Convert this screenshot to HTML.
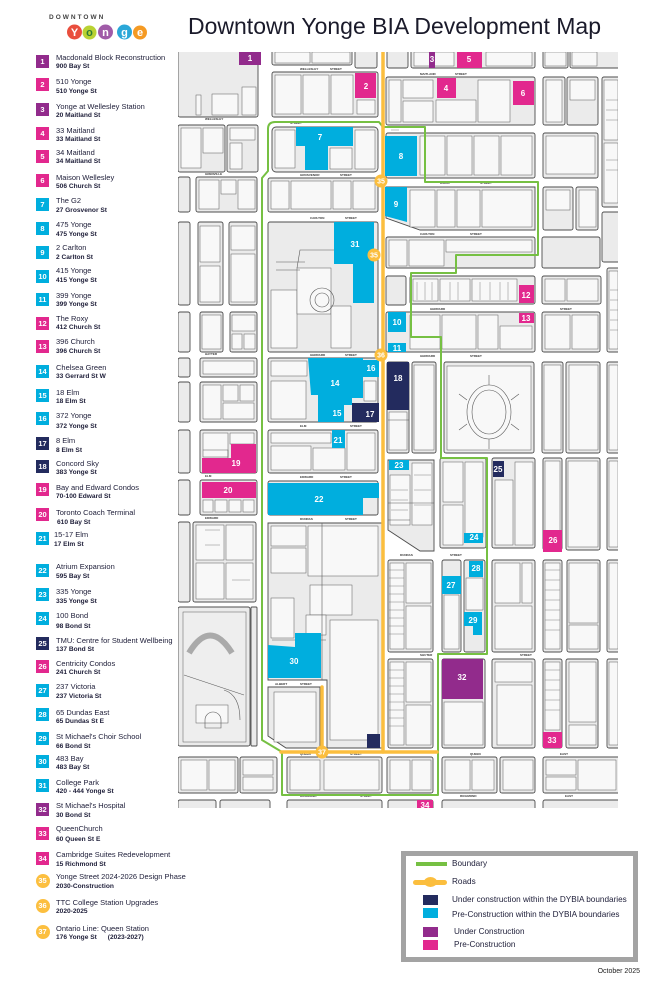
<!DOCTYPE html>
<html><head><meta charset="utf-8">
<style>
*{margin:0;padding:0;box-sizing:border-box}
body{width:652px;height:996px;position:relative;background:#fff;overflow:hidden;font-family:"Liberation Sans",Arial,sans-serif;color:#1d1d38}
.sq{position:absolute;left:36px;width:13px;height:13px;color:#fff;font-weight:bold;font-size:7.5px;line-height:13px;text-align:center}
.ci{position:absolute;left:35.5px;width:14px;height:14px;border-radius:50%;background:#fcbf3f;color:#fff;font-weight:bold;font-size:7.5px;line-height:14px;text-align:center}
.t{position:absolute;left:56px;font-size:7.5px;line-height:8px;white-space:nowrap}
.s{position:absolute;left:56px;font-size:6.6px;line-height:7px;font-weight:bold;white-space:nowrap}
.P{background:#922b8c}.M{background:#e2288e}.B{background:#00aede}.N{background:#232b5e}
.lg{position:absolute;font-size:8.2px;line-height:8px;white-space:nowrap;left:452px}
</style></head><body>

<!-- Logo -->
<div style="position:absolute;left:49px;top:14px;font-size:6.5px;line-height:8px;font-weight:bold;letter-spacing:2px;color:#444">DOWNTOWN</div>
<svg style="position:absolute;left:60px;top:22px" width="95" height="22">
<circle cx="14.5" cy="10" r="7.5" fill="#e94e3d"/>
<circle cx="29.5" cy="10.5" r="7" fill="#b9d233"/>
<circle cx="45.5" cy="10" r="7.5" fill="#a05ba8"/>
<circle cx="64.5" cy="10" r="7.5" fill="#2aa7d8"/>
<circle cx="80" cy="10.5" r="7" fill="#f59a23"/>
<g font-family="Liberation Sans, sans-serif" font-weight="bold" font-size="11" fill="#fff" text-anchor="middle">
<text x="14.5" y="14">Y</text><text x="29.5" y="14" fill="#2e7d32">o</text><text x="45.5" y="14">n</text><text x="64.5" y="14">g</text><text x="80" y="14">e</text></g>
</svg>

<!-- Title -->
<div style="position:absolute;left:188px;top:15px;font-size:23px;line-height:23px;color:#1a1a2a;white-space:nowrap">Downtown Yonge BIA Development Map</div>

<!-- Legend list -->
<div class="sq P" style="top:55px">1</div><div class="t" style="top:54.3px">Macdonald Block Reconstruction</div><div class="s" style="top:63.2px">900 Bay St</div>
<div class="sq M" style="top:77.7px">2</div><div class="t" style="top:78px">510 Yonge</div><div class="s" style="top:87.8px">510 Yonge St</div>
<div class="sq P" style="top:103px">3</div><div class="t" style="top:103.3px">Yonge at Wellesley Station</div><div class="s" style="top:112.2px">20 Maitland St</div>
<div class="sq M" style="top:126.7px">4</div><div class="t" style="top:126.7px">33 Maitland</div><div class="s" style="top:135.8px">33 Maitland St</div>
<div class="sq M" style="top:150px">5</div><div class="t" style="top:149.3px">34 Maitland</div><div class="s" style="top:158.2px">34 Maitland St</div>
<div class="sq M" style="top:174px">6</div><div class="t" style="top:174.3px">Maison Wellesley</div><div class="s" style="top:182.5px">506 Church St</div>
<div class="sq B" style="top:197.7px">7</div><div class="t" style="top:197px">The G2</div><div class="s" style="top:207.2px">27 Grosvenor St</div>
<div class="sq B" style="top:221.7px">8</div><div class="t" style="top:221.3px">475 Yonge</div><div class="s" style="top:230.8px">475 Yonge St</div>
<div class="sq B" style="top:246px">9</div><div class="t" style="top:244px">2 Carlton</div><div class="s" style="top:253.8px">2 Carlton St</div>
<div class="sq B" style="top:270px">10</div><div class="t" style="top:267px">415 Yonge</div><div class="s" style="top:277.2px">415 Yonge St</div>
<div class="sq B" style="top:293.3px">11</div><div class="t" style="top:292px">399 Yonge</div><div class="s" style="top:300.8px">399 Yonge St</div>
<div class="sq M" style="top:317.3px">12</div><div class="t" style="top:315.3px">The Roxy</div><div class="s" style="top:324.2px">412 Church St</div>
<div class="sq M" style="top:340px">13</div><div class="t" style="top:338px">396 Church</div><div class="s" style="top:347.5px">396 Church St</div>
<div class="sq B" style="top:365px">14</div><div class="t" style="top:364.3px">Chelsea Green</div><div class="s" style="top:373.2px">33 Gerrard St W</div>
<div class="sq B" style="top:388.7px">15</div><div class="t" style="top:389.3px">18 Elm</div><div class="s" style="top:398.2px">18 Elm St</div>
<div class="sq B" style="top:412.3px">16</div><div class="t" style="top:412.3px">372 Yonge</div><div class="s" style="top:422.8px">372 Yonge St</div>
<div class="sq N" style="top:436.7px">17</div><div class="t" style="top:437px">8 Elm</div><div class="s" style="top:447.2px">8 Elm St</div>
<div class="sq N" style="top:460px">18</div><div class="t" style="top:460px">Concord Sky</div><div class="s" style="top:468.8px">383 Yonge St</div>
<div class="sq M" style="top:483.3px">19</div><div class="t" style="top:484.3px">Bay and Edward Condos</div><div class="s" style="top:493.2px">70-100 Edward St</div>
<div class="sq M" style="top:507.7px">20</div><div class="t" style="top:509.3px">Toronto Coach Terminal</div><div class="s" style="top:518.8px;left:57px">610 Bay St</div>
<div class="sq B" style="top:531.7px">21</div><div class="t" style="top:531px;left:54px">15-17 Elm</div><div class="s" style="top:540.8px;left:54px">17 Elm St</div>
<div class="sq B" style="top:564.3px">22</div><div class="t" style="top:563.3px">Atrium Expansion</div><div class="s" style="top:573.2px">595 Bay St</div>
<div class="sq B" style="top:588.3px">23</div><div class="t" style="top:588.3px">335 Yonge</div><div class="s" style="top:597.8px">335 Yonge St</div>
<div class="sq B" style="top:612.3px">24</div><div class="t" style="top:612.3px">100 Bond</div><div class="s" style="top:622.8px">98 Bond St</div>
<div class="sq N" style="top:636.7px">25</div><div class="t" style="top:637.3px">TMU: Centre for Student Wellbeing</div><div class="s" style="top:646.2px">137 Bond St</div>
<div class="sq M" style="top:660px">26</div><div class="t" style="top:660.3px">Centricity Condos</div><div class="s" style="top:668.8px">241 Church St</div>
<div class="sq B" style="top:684px">27</div><div class="t" style="top:683.3px">237 Victoria</div><div class="s" style="top:692.8px">237 Victoria St</div>
<div class="sq B" style="top:707.7px">28</div><div class="t" style="top:709px">65 Dundas East</div><div class="s" style="top:717.5px">65 Dundas St E</div>
<div class="sq B" style="top:731.7px">29</div><div class="t" style="top:733px">St Michael's Choir School</div><div class="s" style="top:742.8px">66 Bond St</div>
<div class="sq B" style="top:755px">30</div><div class="t" style="top:755px">483 Bay</div><div class="s" style="top:763.8px">483 Bay St</div>
<div class="sq B" style="top:779px">31</div><div class="t" style="top:779.3px">College Park</div><div class="s" style="top:788.2px">420 - 444 Yonge St</div>
<div class="sq P" style="top:802.7px">32</div><div class="t" style="top:802px">St Michael's Hospital</div><div class="s" style="top:811.8px">30 Bond St</div>
<div class="sq M" style="top:826.7px">33</div><div class="t" style="top:825px">QueenChurch</div><div class="s" style="top:835.5px">60 Queen St E</div>
<div class="sq M" style="top:852.3px">34</div><div class="t" style="top:851px">Cambridge Suites Redevelopment</div><div class="s" style="top:860.8px">15 Richmond St</div>
<div class="ci" style="top:873.7px">35</div><div class="t" style="top:872.7px">Yonge Street 2024-2026 Design Phase</div><div class="s" style="top:882.5px">2030-Construction</div>
<div class="ci" style="top:899px">36</div><div class="t" style="top:898.7px">TTC College Station Upgrades</div><div class="s" style="top:907.8px">2020-2025</div>
<div class="ci" style="top:924.7px">37</div><div class="t" style="top:925px">Ontario Line: Queen Station</div><div class="s" style="top:934.2px;white-space:pre">176 Yonge St      (2023-2027)</div>

<!-- Map -->
<svg width="652" height="996" style="position:absolute;left:0;top:0">
<defs><clipPath id="mc"><rect x="178" y="52" width="440" height="756"/></clipPath></defs>
<g clip-path="url(#mc)">
<g fill="#ebebeb" stroke="#4d4d4d" stroke-width="0.9">
<rect x="178" y="48" width="80" height="69" rx="2"/>
<rect x="178" y="125" width="47" height="47" rx="2"/>
<rect x="227" y="125" width="31" height="47" rx="2"/>
<rect x="178" y="177" width="12" height="35" rx="2"/>
<rect x="196" y="177" width="61" height="35" rx="2"/>
<rect x="178" y="222" width="12" height="83" rx="2"/>
<rect x="198" y="222" width="25" height="83" rx="2"/>
<rect x="229" y="222" width="28" height="83" rx="2"/>
<rect x="178" y="312" width="12" height="40" rx="2"/>
<rect x="200" y="312" width="23" height="40" rx="2"/>
<rect x="230" y="312" width="27" height="40" rx="2"/>
<rect x="178" y="358" width="12" height="19" rx="2"/>
<rect x="200" y="358" width="57" height="19" rx="2"/>
<rect x="178" y="382" width="12" height="40" rx="2"/>
<rect x="200" y="382" width="57" height="40" rx="2"/>
<rect x="178" y="430" width="12" height="43" rx="2"/>
<rect x="200" y="430" width="57" height="43" rx="2"/>
<rect x="178" y="480" width="12" height="35" rx="2"/>
<rect x="200" y="480" width="57" height="35" rx="2"/>
<rect x="178" y="522" width="12" height="80" rx="2"/>
<rect x="193" y="522" width="63" height="80" rx="2"/>
<rect x="178" y="607" width="72" height="139" rx="2"/>
<rect x="251" y="607" width="6" height="139" rx="1"/>
<rect x="178" y="757" width="60" height="36" rx="2"/>
<rect x="240" y="757" width="37" height="36" rx="2"/>
<rect x="178" y="800" width="38" height="14" rx="2"/>
<rect x="220" y="800" width="50" height="14" rx="2"/>

<rect x="272" y="48" width="80" height="17" rx="2"/>
<rect x="355" y="48" width="22" height="20" rx="2"/>
<rect x="272" y="72" width="106" height="45" rx="2"/>
<rect x="272" y="127" width="106" height="45" rx="4"/>
<rect x="268" y="178" width="110" height="34" rx="2"/>
<rect x="268" y="222" width="110" height="130" rx="2"/>
<rect x="268" y="358" width="110" height="64" rx="2"/>
<rect x="268" y="430" width="110" height="43" rx="2"/>
<rect x="268" y="481" width="110" height="34" rx="2"/>
<path d="M268,523 H382 V748 H327 V680 H268 Z"/>
<path d="M268,687 H320 V748 H286 L268,736 Z"/>
<rect x="287" y="757" width="95" height="36" rx="2"/>
<rect x="287" y="800" width="95" height="14" rx="2"/>

<rect x="387" y="48" width="21" height="20" rx="2"/>
<rect x="411" y="48" width="124" height="20" rx="2"/>
<rect x="543" y="48" width="25" height="20" rx="2"/>
<rect x="570" y="48" width="50" height="20" rx="2"/>
<rect x="386" y="77" width="149" height="48" rx="2"/>
<rect x="543" y="77" width="22" height="48" rx="2"/>
<rect x="567" y="77" width="31" height="48" rx="2"/>
<rect x="602" y="77" width="18" height="130" rx="2"/>
<rect x="386" y="133" width="149" height="45" rx="2"/>
<rect x="543" y="133" width="55" height="45" rx="2"/>
<path d="M386,187 H535 V230 H420 L386,218 Z"/>
<rect x="543" y="187" width="30" height="43" rx="2"/>
<rect x="576" y="187" width="22" height="43" rx="2"/>
<rect x="602" y="212" width="18" height="50" rx="2"/>
<rect x="386" y="237" width="149" height="31" rx="2"/>
<rect x="542" y="237" width="58" height="31" rx="2"/>
<rect x="386" y="276" width="20" height="29" rx="2"/>
<rect x="410" y="276" width="125" height="28" rx="2"/>
<rect x="542" y="276" width="59" height="28" rx="2"/>
<rect x="607" y="268" width="13" height="84" rx="2"/>
<rect x="386" y="312" width="149" height="40" rx="2"/>
<rect x="542" y="312" width="58" height="40" rx="2"/>
<rect x="387" y="362" width="22" height="91" rx="2"/>
<rect x="412" y="362" width="24" height="91" rx="2"/>
<rect x="444" y="362" width="90" height="91" rx="2"/>
<rect x="542" y="362" width="21" height="91" rx="2"/>
<rect x="566" y="362" width="34" height="91" rx="2"/>
<rect x="607" y="362" width="13" height="91" rx="2"/>
<path d="M388,460 H434 V551 H420 L388,530 Z"/>
<rect x="440" y="458" width="46" height="90" rx="2"/>
<rect x="492" y="458" width="43" height="90" rx="2"/>
<rect x="543" y="458" width="19" height="92" rx="2"/>
<rect x="566" y="458" width="34" height="92" rx="2"/>
<rect x="607" y="458" width="13" height="92" rx="2"/>
<rect x="388" y="560" width="45" height="92" rx="2"/>
<rect x="442" y="560" width="19" height="92" rx="2"/>
<rect x="464" y="560" width="21" height="92" rx="2"/>
<rect x="492" y="560" width="43" height="92" rx="2"/>
<rect x="543" y="560" width="19" height="92" rx="2"/>
<rect x="567" y="560" width="33" height="92" rx="2"/>
<rect x="607" y="560" width="13" height="92" rx="2"/>
<rect x="388" y="659" width="45" height="89" rx="2"/>
<rect x="442" y="659" width="43" height="89" rx="2"/>
<rect x="492" y="659" width="43" height="89" rx="2"/>
<rect x="543" y="659" width="19" height="89" rx="2"/>
<rect x="566" y="659" width="32" height="89" rx="2"/>
<rect x="607" y="659" width="13" height="89" rx="2"/>
<rect x="387" y="757" width="46" height="36" rx="2"/>
<rect x="442" y="757" width="55" height="36" rx="2"/>
<rect x="500" y="757" width="35" height="36" rx="2"/>
<rect x="543" y="757" width="77" height="36" rx="2"/>
<rect x="388" y="800" width="45" height="14" rx="2"/>
<rect x="442" y="800" width="93" height="14" rx="2"/>
<rect x="543" y="800" width="77" height="14" rx="2"/>
</g>

<!-- inner building detail -->
<g fill="#f8f8f8" stroke="#5a5a5a" stroke-width="0.5">
<rect x="196" y="95" width="5" height="20"/><rect x="212" y="94" width="26" height="21"/><rect x="242" y="87" width="14" height="28"/>
<rect x="181" y="128" width="20" height="40"/><rect x="203" y="128" width="20" height="25"/><rect x="230" y="128" width="25" height="12"/><rect x="230" y="143" width="12" height="26"/>
<rect x="199" y="180" width="20" height="29"/><rect x="221" y="180" width="15" height="14"/><rect x="238" y="180" width="17" height="29"/>
<rect x="200" y="226" width="20" height="36"/><rect x="200" y="266" width="20" height="36"/><rect x="231" y="226" width="24" height="24"/><rect x="231" y="254" width="24" height="48"/>
<rect x="202" y="315" width="19" height="34"/><rect x="232" y="315" width="23" height="16"/><rect x="232" y="334" width="10" height="15"/><rect x="244" y="334" width="11" height="15"/>
<rect x="203" y="361" width="51" height="13"/><rect x="203" y="385" width="18" height="34"/><rect x="223" y="385" width="15" height="16"/><rect x="240" y="385" width="14" height="16"/><rect x="223" y="403" width="31" height="16"/>
<rect x="203" y="433" width="25" height="24"/><rect x="230" y="433" width="24" height="11"/>
<rect x="203" y="500" width="10" height="12"/><rect x="215" y="500" width="12" height="12"/><rect x="229" y="500" width="12" height="12"/><rect x="243" y="500" width="11" height="12"/>
<rect x="196" y="525" width="28" height="35"/><rect x="226" y="525" width="27" height="35"/><rect x="196" y="563" width="28" height="36"/><rect x="226" y="563" width="27" height="36"/>
<rect x="183" y="612" width="63" height="130" fill="#eeeeee"/>
<rect x="196" y="705" width="32" height="18"/>
<rect x="181" y="760" width="26" height="30"/><rect x="209" y="760" width="26" height="30"/><rect x="243" y="760" width="30" height="15"/><rect x="243" y="777" width="30" height="13"/>
<rect x="275" y="75" width="26" height="39"/><rect x="303" y="75" width="26" height="39"/><rect x="331" y="75" width="22" height="39"/><rect x="357" y="100" width="18" height="14"/>
<rect x="275" y="130" width="20" height="38"/><rect x="330" y="148" width="22" height="21"/><rect x="355" y="130" width="20" height="39"/>
<rect x="271" y="181" width="18" height="28"/><rect x="291" y="181" width="40" height="28"/><rect x="333" y="181" width="18" height="28"/><rect x="353" y="181" width="22" height="28"/>
<rect x="271" y="290" width="26" height="58"/><rect x="297" y="268" width="34" height="46"/><rect x="331" y="306" width="20" height="42"/>
<rect x="271" y="361" width="36" height="15"/><rect x="271" y="381" width="35" height="38"/><rect x="364" y="381" width="12" height="20"/>
<rect x="271" y="433" width="60" height="10"/><rect x="271" y="446" width="40" height="24"/><rect x="313" y="448" width="32" height="22"/><rect x="347" y="433" width="28" height="37"/>
<rect x="271" y="526" width="35" height="20"/><rect x="308" y="526" width="70" height="50"/><rect x="271" y="548" width="35" height="25"/><rect x="310" y="585" width="42" height="30"/><rect x="271" y="598" width="23" height="40"/><rect x="330" y="620" width="48" height="120"/><rect x="306" y="615" width="20" height="20"/>
<rect x="274" y="692" width="42" height="50"/>
<rect x="290" y="760" width="30" height="30"/><rect x="324" y="760" width="55" height="30"/>
<rect x="389" y="80" width="12" height="42"/><rect x="403" y="80" width="30" height="18"/><rect x="403" y="101" width="30" height="21"/><rect x="436" y="100" width="40" height="22"/><rect x="478" y="80" width="32" height="42"/>
<rect x="420" y="136" width="25" height="39"/><rect x="447" y="136" width="25" height="39"/><rect x="474" y="136" width="25" height="39"/><rect x="501" y="136" width="31" height="39"/>
<rect x="546" y="136" width="49" height="38"/><rect x="546" y="80" width="16" height="42"/><rect x="570" y="80" width="25" height="20"/>
<rect x="410" y="190" width="25" height="37"/><rect x="437" y="190" width="18" height="37"/><rect x="457" y="190" width="23" height="37"/><rect x="482" y="190" width="50" height="37"/>
<rect x="546" y="190" width="24" height="20"/><rect x="579" y="190" width="17" height="37"/>
<rect x="389" y="240" width="18" height="26"/><rect x="409" y="240" width="35" height="26"/><rect x="446" y="240" width="86" height="12"/>
<rect x="413" y="279" width="25" height="22"/><rect x="440" y="279" width="30" height="22"/><rect x="472" y="279" width="45" height="22"/><rect x="545" y="279" width="20" height="22"/><rect x="567" y="279" width="31" height="22"/>
<rect x="410" y="315" width="30" height="34"/><rect x="442" y="315" width="34" height="34"/><rect x="478" y="315" width="20" height="34"/><rect x="500" y="326" width="32" height="23"/><rect x="545" y="315" width="25" height="34"/><rect x="572" y="315" width="26" height="34"/>
<rect x="389" y="412" width="18" height="38"/><rect x="414" y="365" width="20" height="85"/>
<rect x="447" y="366" width="84" height="84"/>
<rect x="544" y="365" width="17" height="85"/><rect x="569" y="365" width="29" height="85"/>
<rect x="390" y="475" width="20" height="50"/><rect x="412" y="463" width="20" height="62"/><rect x="443" y="462" width="20" height="40"/><rect x="465" y="462" width="18" height="75"/><rect x="443" y="505" width="20" height="40"/>
<rect x="495" y="480" width="18" height="65"/><rect x="515" y="462" width="18" height="83"/><rect x="545" y="461" width="15" height="86"/><rect x="568" y="461" width="30" height="86"/>
<rect x="390" y="563" width="14" height="86"/><rect x="406" y="563" width="25" height="40"/><rect x="406" y="606" width="25" height="43"/>
<rect x="444" y="595" width="15" height="54"/><rect x="466" y="578" width="17" height="32"/>
<rect x="495" y="563" width="25" height="40"/><rect x="495" y="606" width="37" height="43"/><rect x="522" y="563" width="10" height="40"/>
<rect x="545" y="563" width="15" height="86"/><rect x="569" y="563" width="29" height="60"/><rect x="569" y="625" width="29" height="24"/>
<rect x="390" y="662" width="14" height="83"/><rect x="406" y="662" width="25" height="40"/><rect x="406" y="705" width="25" height="40"/>
<rect x="444" y="702" width="39" height="43"/>
<rect x="495" y="662" width="37" height="20"/><rect x="497" y="685" width="35" height="60"/>
<rect x="545" y="662" width="15" height="68"/><rect x="569" y="662" width="27" height="60"/><rect x="569" y="725" width="27" height="20"/>
<rect x="390" y="760" width="20" height="30"/><rect x="412" y="760" width="19" height="30"/><rect x="445" y="760" width="25" height="30"/><rect x="472" y="760" width="22" height="30"/><rect x="503" y="760" width="30" height="30"/><rect x="546" y="760" width="30" height="15"/><rect x="546" y="777" width="30" height="13"/><rect x="578" y="760" width="38" height="30"/>
<rect x="604" y="80" width="14" height="60"/><rect x="604" y="143" width="14" height="60"/><rect x="609" y="271" width="9" height="78"/><rect x="609" y="365" width="9" height="85"/><rect x="609" y="461" width="9" height="86"/><rect x="609" y="563" width="9" height="86"/><rect x="609" y="662" width="9" height="83"/>
<rect x="275" y="52" width="35" height="11"/><rect x="312" y="52" width="38" height="11"/><rect x="414" y="52" width="40" height="14"/><rect x="486" y="52" width="46" height="14"/><rect x="545" y="52" width="21" height="14"/><rect x="572" y="52" width="25" height="14"/>
</g>

<!-- lot lines -->
<g fill="none" stroke="#777" stroke-width="0.45">
<path d="M389,570 h15 M389,578 h15 M389,586 h15 M389,594 h15 M389,602 h15 M389,610 h15 M389,618 h15 M389,626 h15 M389,634 h15"/>
<path d="M389,670 h15 M389,678 h15 M389,686 h15 M389,694 h15 M389,702 h15 M389,710 h15 M389,718 h15 M389,726 h15"/>
<path d="M545,570 h15 M545,580 h15 M545,590 h15 M545,600 h15 M545,610 h15 M545,620 h15 M545,630 h15"/>
<path d="M545,670 h15 M545,680 h15 M545,690 h15 M545,700 h15 M545,710 h15"/>
<path d="M417,282 v18 M425,282 v18 M432,282 v18 M450,282 v18 M458,282 v18 M480,282 v18 M490,282 v18 M500,282 v18 M508,282 v18"/>
<path d="M610,290 h8 M610,300 h8 M610,310 h8 M610,320 h8 M610,330 h8 M606,100 h12 M606,110 h12 M606,120 h12 M606,160 h12 M606,170 h12"/>
<path d="M391,490 h17 M391,500 h17 M391,510 h17 M414,475 h17 M414,490 h17 M414,505 h17"/>
<path d="M391,130 h8 M391,140 h8 M391,150 h8 M391,160 h8"/>
<path d="M205,530 h15 M205,545 h15 M232,580 h18"/>
</g>

<!-- special features -->
<g fill="none" stroke="#5a5a5a" stroke-width="0.6">
<ellipse cx="489" cy="412" rx="22" ry="27"/><ellipse cx="489" cy="412" rx="17" ry="22"/>
<path d="M467,400 l-8,-6 M467,424 l-8,6 M511,400 l8,-6 M511,424 l8,6 M489,385 v-10 M489,439 v10"/>
<circle cx="322" cy="300" r="12"/><circle cx="322" cy="300" r="7"/>
<path d="M297,268 L300,250 H345 M276,262 H305 M276,270 H300"/>
<path d="M189,653 Q210,618 232,653" stroke="#aaa" stroke-width="6"/>
<path d="M184,675 L244,695 M224,690 Q240,695 240,720 M205,720 a8,8 0 0 1 16,0 v8 h-16 z"/>
<path d="M268,680 H320 M322,523 V680 M388,503 H434 M388,420 H409 M388,520 H410"/>
<path d="M203,450 L228,450 L228,470 M272,640 H326"/>
</g>

<!-- tiny street labels -->
<g font-family="Liberation Sans, sans-serif" font-size="3" fill="#333" font-weight="bold">
<text x="300" y="70">WELLESLEY</text><text x="330" y="70">STREET</text><text x="420" y="75">MAITLAND</text><text x="455" y="75">STREET</text>
<text x="290" y="124">STREET</text><text x="300" y="176">GROSVENOR</text><text x="340" y="176">STREET</text>
<text x="440" y="184">WOOD</text><text x="480" y="184">STREET</text><text x="310" y="219">CARLTON</text><text x="345" y="219">STREET</text>
<text x="420" y="235">CARLTON</text><text x="470" y="235">STREET</text><text x="430" y="310">GERRARD</text><text x="560" y="310">STREET</text>
<text x="310" y="356">GERRARD</text><text x="345" y="356">STREET</text><text x="420" y="357">GERRARD</text><text x="470" y="357">STREET</text>
<text x="300" y="427">ELM</text><text x="350" y="427">STREET</text><text x="300" y="478">EDWARD</text><text x="340" y="478">STREET</text>
<text x="300" y="520">DUNDAS</text><text x="345" y="520">STREET</text><text x="400" y="556">DUNDAS</text><text x="450" y="556">STREET</text>
<text x="420" y="656">SHUTER</text><text x="520" y="656">STREET</text><text x="275" y="685">ALBERT</text><text x="300" y="685">STREET</text>
<text x="300" y="755">QUEEN</text><text x="350" y="755">STREET</text><text x="470" y="755">QUEEN</text><text x="560" y="755">EAST</text>
<text x="300" y="797">RICHMOND</text><text x="360" y="797">STREET</text><text x="460" y="797">RICHMOND</text><text x="565" y="797">EAST</text>
<text x="205" y="120">WELLESLEY</text><text x="205" y="175">GRENVILLE</text><text x="205" y="355">HAYTER</text><text x="205" y="477">ELM</text><text x="205" y="519">EDWARD</text>
</g>

<!-- project blocks -->
<g>
<rect x="239" y="50" width="22" height="15" fill="#922b8c"/>
<rect x="355" y="73" width="21" height="25" fill="#e2288e"/>
<rect x="429" y="50" width="6" height="18" fill="#922b8c"/>
<rect x="457" y="50" width="25" height="18" fill="#e2288e"/>
<rect x="437" y="78" width="19" height="20" fill="#e2288e"/>
<rect x="513" y="81" width="21" height="24" fill="#e2288e"/>
<path d="M296,127 H353 V146 H328 V170 H305 V146 H296 Z" fill="#00aede"/>
<rect x="385" y="136" width="32" height="40" fill="#00aede"/>
<path d="M385,187 H407 V222 L385,216 Z" fill="#00aede"/>
<path d="M334,222 H374 V303 H353 V264 H334 Z" fill="#00aede"/>
<rect x="388" y="312" width="18" height="20" fill="#00aede"/>
<rect x="388" y="343" width="18" height="9" fill="#00aede"/>
<rect x="519" y="285" width="15" height="18" fill="#e2288e"/>
<rect x="519" y="313" width="15" height="10" fill="#e2288e"/>
<path d="M308,358 H363 V398 H352 V405 H344 V403 H318 V395 H311 Z" fill="#00aede"/>
<rect x="318" y="403" width="26" height="19" fill="#00aede"/>
<rect x="363" y="360" width="16" height="17" fill="#00aede"/>
<rect x="352" y="403" width="27" height="19" fill="#232b5e"/>
<rect x="387" y="362" width="22" height="48" fill="#232b5e"/>
<rect x="332" y="430" width="13" height="18" fill="#00aede"/>
<path d="M202,458 H231 V444 H256 V473 H202 Z" fill="#e2288e"/>
<rect x="202" y="482" width="54" height="16" fill="#e2288e"/>
<path d="M268,483 H379 V498 H363 V515 H268 Z" fill="#00aede"/>
<rect x="389" y="460" width="20" height="10" fill="#00aede"/>
<rect x="493" y="461" width="11" height="16" fill="#232b5e"/>
<rect x="464" y="533" width="19" height="10" fill="#00aede"/>
<rect x="543" y="530" width="19" height="22" fill="#e2288e"/>
<rect x="442" y="576" width="19" height="18" fill="#00aede"/>
<rect x="469" y="561" width="14" height="16" fill="#00aede"/>
<path d="M464,612 H482 V635 H473 V626 H464 Z" fill="#00aede"/>
<path d="M268,645 L295,647 V633 H321 V678 H268 Z" fill="#00aede"/>
<rect x="442" y="659" width="41" height="40" fill="#922b8c"/>
<rect x="543" y="732" width="19" height="16" fill="#e2288e"/>
<rect x="417" y="800" width="16" height="10" fill="#e2288e"/>
<rect x="367" y="734" width="13" height="14" fill="#232b5e"/>
</g>

<!-- boundary -->
<path d="M383,127 L425,127 L425,182 L538,182 L538,255 L456,255 L456,273 L411,273 L411,337 L441,337 L441,458 L487,458 L487,654 L438,654 L438,795 L282,795 L282,752 L262,740 L262,178 L268,171 L268,129 Q268,122 275,122 L379,122 Z" fill="none" stroke="#76c043" stroke-width="2" stroke-linejoin="round"/>

<!-- roads -->
<g stroke="#fbbe3e" stroke-width="3.5" stroke-linecap="round" fill="none">
<path d="M383,50 V752"/><path d="M281,752 H437"/><path d="M322,687 V752"/>
</g>
<g fill="#fbbe3e"><circle cx="381" cy="181" r="6.5"/><circle cx="374" cy="255" r="6.5"/><circle cx="381" cy="355" r="6.5"/><circle cx="322" cy="752" r="6.5"/></g>
<g font-family="Liberation Sans, sans-serif" font-weight="bold" font-size="7" fill="#fff" text-anchor="middle">
<text x="381" y="183.5">35</text><text x="374" y="257.5">35</text><text x="381" y="357.5">36</text><text x="322" y="754.5">37</text>
</g>

<!-- project labels -->
<g font-family="Liberation Sans, sans-serif" font-weight="bold" font-size="8" fill="#fff" text-anchor="middle">
<text x="250" y="61">1</text><text x="366" y="89">2</text><text x="432" y="62">3</text><text x="469" y="62">5</text>
<text x="446" y="91">4</text><text x="523" y="96">6</text><text x="320" y="140">7</text><text x="401" y="159">8</text>
<text x="396" y="207">9</text><text x="355" y="247">31</text><text x="397" y="325">10</text><text x="397" y="351">11</text>
<text x="526" y="298">12</text><text x="526" y="321">13</text><text x="335" y="386">14</text><text x="337" y="416">15</text>
<text x="371" y="371">16</text><text x="370" y="417">17</text><text x="398" y="381">18</text><text x="338" y="443">21</text>
<text x="236" y="466">19</text><text x="228" y="493">20</text><text x="319" y="502">22</text><text x="399" y="468">23</text>
<text x="498" y="472">25</text><text x="474" y="540">24</text><text x="553" y="543">26</text><text x="451" y="588">27</text>
<text x="476" y="571">28</text><text x="473" y="623">29</text><text x="294" y="664">30</text><text x="462" y="680">32</text>
<text x="552" y="743">33</text><text x="425" y="808">34</text>
</g>
</g>
</svg>

<!-- Legend box -->
<div style="position:absolute;left:401px;top:851px;width:237px;height:111px;border:5px solid #a3a3a3;background:#fff"></div>
<div style="position:absolute;left:416px;top:862.3px;width:31px;height:3.5px;background:#76c043"></div>
<div class="lg" style="top:860px">Boundary</div>
<div style="position:absolute;left:412.5px;top:879.5px;width:34px;height:5px;border-radius:3px;background:#fbbe3e"></div>
<div style="position:absolute;left:424px;top:877px;width:13px;height:10px;border-radius:50%;background:#fbbe3e"></div>
<div class="lg" style="top:878px">Roads</div>
<div style="position:absolute;left:423px;top:895px;width:14.5px;height:10px;background:#232b5e"></div>
<div class="lg" style="top:896.3px">Under construction within the DYBIA boundaries</div>
<div style="position:absolute;left:423px;top:908.3px;width:14.5px;height:10px;background:#00aede"></div>
<div class="lg" style="top:911px">Pre-Construction within the DYBIA boundaries</div>
<div style="position:absolute;left:423px;top:927.3px;width:14.5px;height:9.5px;background:#922b8c"></div>
<div class="lg" style="top:928px;left:454px">Under Construction</div>
<div style="position:absolute;left:423px;top:940px;width:14.5px;height:10px;background:#e2288e"></div>
<div class="lg" style="top:941.3px;left:454px">Pre-Construction</div>
<div style="position:absolute;right:12px;top:968px;font-size:7px;line-height:7px;color:#222;white-space:nowrap">October 2025</div>
</body></html>
